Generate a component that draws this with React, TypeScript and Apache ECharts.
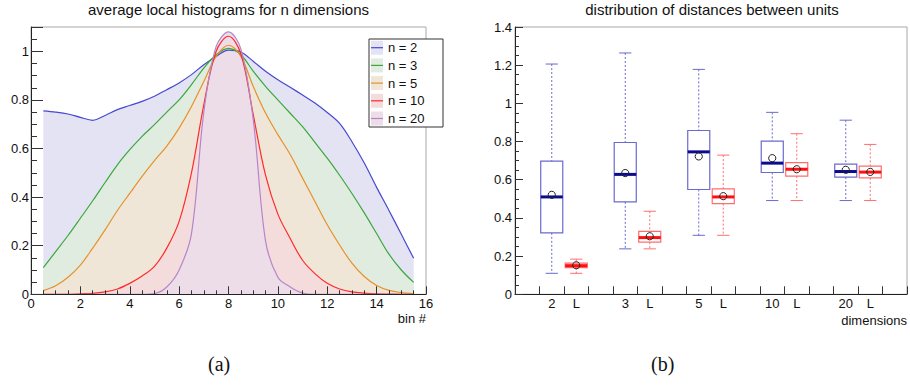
import React, { useEffect, useRef } from 'react';
import * as echarts from 'echarts';

// ---------- panel (a): average local histograms ----------
const binX = [0.5, 1, 1.5, 2, 2.5, 3, 3.5, 4, 4.5, 5, 5.5, 6, 6.5, 7, 7.5, 8, 8.5, 9, 9.5, 10, 10.5, 11, 11.5, 12, 12.5, 13, 13.5, 14, 14.5, 15, 15.5];
const histN2 = [0.755, 0.750, 0.742, 0.728, 0.716, 0.736, 0.760, 0.777, 0.794, 0.815, 0.842, 0.870, 0.904, 0.945, 0.979, 1.005, 0.997, 0.959, 0.918, 0.883, 0.852, 0.820, 0.787, 0.748, 0.703, 0.628, 0.540, 0.440, 0.345, 0.247, 0.148];
const histN3 = [0.110, 0.176, 0.242, 0.313, 0.385, 0.460, 0.533, 0.595, 0.650, 0.698, 0.750, 0.800, 0.863, 0.931, 0.986, 1.012, 0.986, 0.918, 0.856, 0.800, 0.745, 0.690, 0.625, 0.560, 0.490, 0.415, 0.335, 0.250, 0.165, 0.100, 0.049];
const histN5 = [0.015, 0.035, 0.070, 0.120, 0.190, 0.265, 0.345, 0.415, 0.485, 0.550, 0.610, 0.684, 0.773, 0.876, 0.979, 1.025, 0.979, 0.856, 0.746, 0.657, 0.575, 0.478, 0.382, 0.286, 0.203, 0.128, 0.073, 0.036, 0.016, 0.007, 0.003];
const histN10 = [0.0, 0.0, 0.0, 0.002, 0.004, 0.010, 0.022, 0.045, 0.075, 0.115, 0.190, 0.300, 0.500, 0.780, 1.000, 1.062, 0.990, 0.740, 0.490, 0.330, 0.230, 0.140, 0.085, 0.045, 0.022, 0.010, 0.005, 0.002, 0.001, 0.0, 0.0];
const histN20 = [0.0, 0.0, 0.0, 0.0, 0.0, 0.0, 0.0, 0.0, 0.0, 0.003, 0.030, 0.100, 0.250, 0.750, 1.020, 1.080, 1.010, 0.720, 0.220, 0.070, 0.030, 0.005, 0.0, 0.0, 0.0, 0.0, 0.0, 0.0, 0.0, 0.0, 0.0];
const histNames = ['n = 2', 'n = 3', 'n = 5', 'n = 10', 'n = 20'];
const histSeries = [histN2, histN3, histN5, histN10, histN20];
const histColors = ['#4848d0', '#3aa83a', '#e8902c', '#ff2a2a', '#b486c8'];
const histFills = ['#e3e3f4', '#dfecdf', '#f0e6d7', '#f5dcdc', '#eddde9'];
const histXTicks = [0, 2, 4, 6, 8, 10, 12, 14, 16];

// ---------- panel (b): distribution of distances ----------
const boxCategories = ['', '2', 'L', '', '3', 'L', '', '5', 'L', '', '10', 'L', '', '20', 'L', ''];
const dimLabels = ['2', '3', '5', '10', '20'];
// units in n dimensions (blue)
const dimMin = [0.110, 0.238, 0.309, 0.491, 0.491];
const dimQ1 = [0.322, 0.484, 0.549, 0.638, 0.614];
const dimMedian = [0.510, 0.628, 0.746, 0.687, 0.643];
const dimQ3 = [0.697, 0.795, 0.858, 0.802, 0.682];
const dimMax = [1.206, 1.264, 1.178, 0.953, 0.912];
const dimMean = [0.521, 0.635, 0.722, 0.713, 0.652];
// "L" (red)
const lMin = [0.110, 0.238, 0.309, 0.491, 0.491];
const lQ1 = [0.140, 0.273, 0.475, 0.619, 0.610];
const lMedian = [0.150, 0.297, 0.510, 0.655, 0.640];
const lQ3 = [0.163, 0.330, 0.552, 0.690, 0.671];
const lMax = [0.184, 0.435, 0.729, 0.841, 0.785];
const lMean = [0.152, 0.304, 0.514, 0.655, 0.641];

const FONT = "'Liberation Sans', Arial, Helvetica, sans-serif";

function makeBoxRenderer(c: { line: string; median: string }) {
  return (params: any, api: any) => {
    const x = api.value(0);
    const pLo = api.coord([x, api.value(1)]);
    const pQ1 = api.coord([x, api.value(2)]);
    const pMed = api.coord([x, api.value(3)]);
    const pQ3 = api.coord([x, api.value(4)]);
    const pHi = api.coord([x, api.value(5)]);
    const pMean = api.coord([x, api.value(6)]);
    const band = api.size([1, 0])[0];
    const cx = pLo[0];
    const bw = band * 0.45;
    const cw = band * 0.25;
    const dash = { stroke: c.line, lineWidth: 1, lineDash: [2, 2] };
    const solid = { stroke: c.line, lineWidth: 1 };
    return {
      type: 'group',
      children: [
        { type: 'line', shape: { x1: cx, y1: pHi[1], x2: cx, y2: pQ3[1] }, style: dash },
        { type: 'line', shape: { x1: cx, y1: pQ1[1], x2: cx, y2: pLo[1] }, style: dash },
        { type: 'line', shape: { x1: cx - cw, y1: pHi[1], x2: cx + cw, y2: pHi[1] }, style: solid },
        { type: 'line', shape: { x1: cx - cw, y1: pLo[1], x2: cx + cw, y2: pLo[1] }, style: solid },
        {
          type: 'rect',
          shape: { x: cx - bw, y: pQ3[1], width: 2 * bw, height: pQ1[1] - pQ3[1] },
          style: { fill: 'none', stroke: c.line, lineWidth: 1.2 },
        },
        { type: 'line', shape: { x1: cx - bw, y1: pMed[1], x2: cx + bw, y2: pMed[1] }, style: { stroke: c.median, lineWidth: 3 } },
        { type: 'circle', shape: { cx, cy: pMean[1], r: 3.6 }, style: { fill: 'none', stroke: '#222', lineWidth: 1 } },
      ],
    };
  };
}

export default function App() {
  const ref = useRef<HTMLDivElement>(null);

  useEffect(() => {
    if (!ref.current) return;
    const chart = echarts.init(ref.current, undefined, { renderer: 'svg' });

    const areaSeries = histSeries.map((vals, i) => ({
      name: histNames[i] + ' fill',
      type: 'line',
      xAxisIndex: 0,
      yAxisIndex: 0,
      data: binX.map((x, j) => [x, vals[j]]),
      smooth: 0.35,
      symbol: 'none',
      showSymbol: false,
      lineStyle: { width: 0, opacity: 0 },
      areaStyle: { color: histFills[i], opacity: 1, origin: 'start' },
      silent: true,
      z: 1,
    }));

    const lineSeries = histSeries.map((vals, i) => ({
      name: histNames[i],
      type: 'line',
      xAxisIndex: 0,
      yAxisIndex: 0,
      data: binX.map((x, j) => [x, vals[j]]),
      smooth: 0.35,
      symbol: 'none',
      showSymbol: false,
      lineStyle: { color: histColors[i], width: 1.2 },
      itemStyle: { color: histColors[i] },
      z: 3,
    }));

    const dimData = dimLabels.map((d, i) => {
      const idx = boxCategories.indexOf(d);
      return [idx, dimMin[i], dimQ1[i], dimMedian[i], dimQ3[i], dimMax[i], dimMean[i]];
    });
    const lData = dimLabels.map((d, i) => {
      const idx = boxCategories.indexOf(d) + 1;
      return [idx, lMin[i], lQ1[i], lMedian[i], lQ3[i], lMax[i], lMean[i]];
    });

    const axisCommon = {
      z: 8,
      axisLine: { show: true, onZero: false, lineStyle: { color: '#222', width: 1 } },
      splitLine: { show: false },
    };

    const legendTop = 40.7;
    const legendStep = 17.7;

    const option: any = {
      animation: false,
      textStyle: { fontFamily: FONT },
      title: [
        {
          text: 'average local histograms for n dimensions',
          left: 228.5, top: 2, textAlign: 'center', padding: 0,
          textStyle: { fontSize: 15, fontWeight: 'normal', color: '#111', fontFamily: FONT },
        },
        {
          text: 'distribution of distances between units',
          left: 712, top: 2, textAlign: 'center', padding: 0,
          textStyle: { fontSize: 15, fontWeight: 'normal', color: '#111', fontFamily: FONT },
        },
      ],
      legend: {
        orient: 'vertical',
        left: 371,
        top: legendTop,
        padding: 0,
        itemWidth: 12,
        itemHeight: 14,
        itemGap: legendStep - 14,
        data: histNames.map((n, i) => ({ name: n, icon: 'rect', itemStyle: { color: histFills[i], borderWidth: 0 } })),
        selectedMode: false,
        textStyle: { fontSize: 13, color: '#111', lineHeight: 14, fontFamily: FONT },
        z: 10,
      },
      grid: [
        { left: 31, top: 27, width: 395, height: 267.3, show: true, borderColor: '#a8a8a8', borderWidth: 1, backgroundColor: 'transparent' },
        { left: 515, top: 27, width: 394, height: 267.3, show: true, borderColor: '#a8a8a8', borderWidth: 1, backgroundColor: 'transparent' },
      ],
      xAxis: [
        {
          type: 'value', gridIndex: 0, min: histXTicks[0], max: histXTicks[histXTicks.length - 1], interval: 2,
          ...axisCommon,
          axisTick: { show: true, inside: true, length: 8, lineStyle: { color: '#333' } },
          minorTick: { show: true, splitNumber: 4, length: 4, lineStyle: { color: '#333' } },
          axisLabel: { fontSize: 13, color: '#111', margin: 3, fontFamily: FONT },
          name: 'bin #', nameLocation: 'end', nameGap: 0, nameMoveOverlap: false,
          nameTextStyle: { fontSize: 13, color: '#111', align: 'right', verticalAlign: 'top', padding: [18, 0, 0, 0], fontFamily: FONT },
        },
        {
          type: 'category', gridIndex: 1, data: boxCategories, boundaryGap: true,
          ...axisCommon,
          axisTick: { show: true, inside: true, length: 8, interval: 0, alignWithLabel: false, lineStyle: { color: '#333' } },
          axisLabel: { interval: 0, fontSize: 13, color: '#111', margin: 3, fontFamily: FONT },
          name: 'dimensions', nameLocation: 'end', nameGap: 0, nameMoveOverlap: false,
          nameTextStyle: { fontSize: 13, color: '#111', align: 'right', verticalAlign: 'top', padding: [20, 0, 0, 0], fontFamily: FONT },
        },
      ],
      yAxis: [
        {
          type: 'value', gridIndex: 0, min: 0, max: 1.1, interval: 0.2,
          ...axisCommon,
          axisTick: { show: true, inside: true, length: 12, lineStyle: { color: '#333' } },
          minorTick: { show: true, splitNumber: 4, length: 6, lineStyle: { color: '#333' } },
          axisLabel: { fontSize: 13, color: '#111', margin: 2, showMaxLabel: false, fontFamily: FONT },
        },
        {
          type: 'value', gridIndex: 1, min: 0, max: 1.4, interval: 0.2,
          ...axisCommon,
          axisTick: { show: true, inside: true, length: 8, lineStyle: { color: '#333' } },
          minorTick: { show: true, splitNumber: 4, length: 4, lineStyle: { color: '#333' } },
          axisLabel: { fontSize: 13, color: '#111', margin: 3, fontFamily: FONT },
        },
      ],
      series: [
        ...areaSeries,
        ...lineSeries,
        {
          name: 'n dimensions',
          type: 'custom',
          xAxisIndex: 1, yAxisIndex: 1,
          data: dimData,
          encode: { x: 0, y: [1, 2, 3, 4, 5, 6] },
          renderItem: makeBoxRenderer({ line: '#6a6ad0', median: '#0b0b8f' }),
          z: 3,
        },
        {
          name: 'L',
          type: 'custom',
          xAxisIndex: 1, yAxisIndex: 1,
          data: lData,
          encode: { x: 0, y: [1, 2, 3, 4, 5, 6] },
          renderItem: makeBoxRenderer({ line: '#ff6e6e', median: '#ff1010' }),
          z: 3,
        },
      ],
      graphic: [
        {
          type: 'rect', z: 5,
          shape: { x: 369, y: 39, width: 74, height: 88 },
          style: { fill: '#ffffff', stroke: '#333', lineWidth: 1 },
        },
        ...histColors.map((c, i) => ({
          type: 'line', z: 20,
          shape: { x1: 371, y1: legendTop + i * legendStep + 7, x2: 383, y2: legendTop + i * legendStep + 7 },
          style: { stroke: c, lineWidth: 1.2 },
        })),
        {
          type: 'text', left: 208, top: 354,
          style: { text: '(a)', fontSize: 20, fontFamily: "'Liberation Serif', 'Times New Roman', serif", fill: '#111' },
        },
        {
          type: 'text', left: 651, top: 354,
          style: { text: '(b)', fontSize: 20, fontFamily: "'Liberation Serif', 'Times New Roman', serif", fill: '#111' },
        },
      ],
    };

    chart.setOption(option);
    return () => chart.dispose();
  }, []);

  return (
    <div
      ref={ref}
      style={{ position: 'absolute', left: 0, top: 0, width: 910, height: 385, background: '#fff' }}
    />
  );
}
